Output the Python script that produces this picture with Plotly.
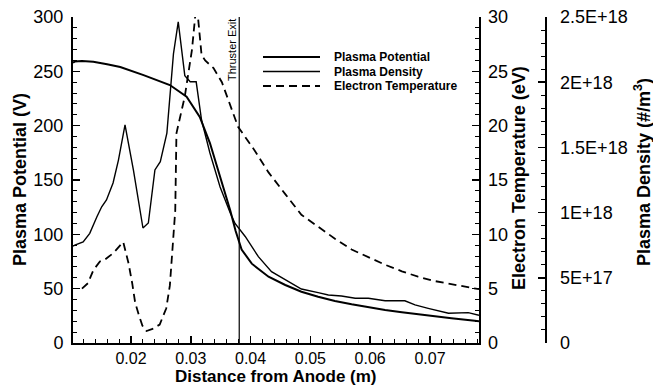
import plotly.graph_objects as go

# ---------------- data ----------------
pot_x = [0.0103, 0.0106, 0.0118, 0.0137, 0.0160, 0.0182, 0.0221, 0.0265, 0.0293, 0.0315,
         0.0332, 0.0349, 0.0366, 0.0375, 0.0385, 0.0402, 0.0430, 0.0458, 0.0485, 0.0513,
         0.0541, 0.0569, 0.0597, 0.0625, 0.0653, 0.0680, 0.0708, 0.0736, 0.0775, 0.0782]
pot_v = [258, 259, 259.5, 258.8, 256.5, 254, 246.5, 237.4, 226.6, 208,
         184, 153, 122, 103, 86, 73, 61, 53.4, 47.2, 42.6,
         38.6, 35.6, 32.8, 30.4, 28.2, 26.4, 24.2, 22.7, 20.5, 20]

den_x = [0.0103, 0.0106, 0.0120, 0.0131, 0.0143, 0.0151, 0.0159, 0.0170, 0.0179, 0.0190,
         0.0204, 0.0220, 0.0229, 0.0240, 0.0249, 0.0260, 0.0271, 0.0279, 0.0290, 0.0299,
         0.0309, 0.0318, 0.0332, 0.0349, 0.0366, 0.0374, 0.0391, 0.0413, 0.0435, 0.0458,
         0.0485, 0.0513, 0.0530, 0.0552, 0.0575, 0.0597, 0.0625, 0.0658, 0.0675, 0.0697,
         0.0731, 0.0764, 0.0782]
den_v = [0.742, 0.750, 0.775, 0.841, 0.968, 1.045, 1.097, 1.227, 1.403, 1.672,
         1.327, 0.882, 0.920, 1.327, 1.390, 1.610, 2.217, 2.463, 2.050, 2.003,
         2.003, 1.710, 1.457, 1.196, 0.997, 0.917, 0.817, 0.662, 0.547, 0.483,
         0.414, 0.386, 0.368, 0.360, 0.343, 0.343, 0.324, 0.324, 0.292, 0.266,
         0.228, 0.233, 0.213]  # units of 1E18 #/m^3

te_x = [0.0118, 0.0128, 0.0137, 0.0148, 0.0157, 0.0171, 0.0187, 0.0196, 0.0202, 0.0207,
        0.0213, 0.0219, 0.0226, 0.0236, 0.0248, 0.0259, 0.0265, 0.0268, 0.0271, 0.0272,
        0.0274, 0.0276, 0.0290, 0.0302, 0.0309, 0.0312, 0.0318, 0.0324, 0.0338, 0.0352,
        0.0370, 0.0379, 0.0407, 0.0430, 0.0458, 0.0485, 0.0513, 0.0541, 0.0569, 0.0597,
        0.0625, 0.0653, 0.0680, 0.0708, 0.0736, 0.0775, 0.0782]
te_v = [5.0, 5.5, 6.7, 7.5, 7.7, 8.3, 9.3, 7.3, 5.5, 3.7,
        2.6, 1.6, 1.1, 1.3, 1.7, 3.2, 5.3, 7.6, 9.3, 11.0,
        12.2, 19.3, 22.7, 27.0, 31.0, 30.0, 26.5, 26.0, 25.3, 24.0,
        21.3, 19.9, 17.7, 15.7, 13.7, 11.8, 10.7, 9.6, 8.6, 7.9,
        7.2, 6.6, 6.1, 5.7, 5.4, 5.0, 4.95]

exit_x = 0.0381

x_ticks = [0.02, 0.03, 0.04, 0.05, 0.06, 0.07]
pot_ticks = [0, 50, 100, 150, 200, 250, 300]
te_ticks = [0, 5, 10, 15, 20, 25, 30]
den_tickvals = [0, 0.5e18, 1.0e18, 1.5e18, 2.0e18, 2.5e18]
den_ticktext = ["0", "5E+17", "1E+18", "1.5E+18", "2E+18", "2.5E+18"]

legend_names = ["Plasma Potential", "Plasma Density", "Electron Temperature"]

# ---------------- layout geometry (pixels) ----------------
W, H = 653, 385
L, R, T, B = 73, 10, 17, 42
plot_w = W - L - R
plot_h = H - T - B
x_right_px = 479
den_axis_px = 545


def px(xp):
    return (xp - L) / plot_w


def py(yp):
    return (H - B - yp) / plot_h


FONT = "Liberation Sans, Arial, Helvetica, sans-serif"
BLACK = "#000000"

fig = go.Figure()
fig.add_trace(go.Scatter(x=pot_x, y=pot_v, mode="lines", name=legend_names[0],
                         line=dict(color=BLACK, width=2), yaxis="y", showlegend=False))
fig.add_trace(go.Scatter(x=den_x, y=[v * 1e18 for v in den_v], mode="lines", name=legend_names[1],
                         line=dict(color=BLACK, width=1.4), yaxis="y3", showlegend=False))
fig.add_trace(go.Scatter(x=te_x, y=te_v, mode="lines", name=legend_names[2],
                         line=dict(color=BLACK, width=1.8, dash="8px,5px"), yaxis="y2",
                         showlegend=False))

xdom_end = px(x_right_px)

common_tick = dict(color=BLACK, size=18, family=FONT)
x_tick_font = dict(color=BLACK, size=16, family=FONT)

fig.update_layout(
    template="none",
    width=W, height=H,
    margin=dict(l=L, r=R, t=T, b=B, pad=0, autoexpand=False),
    paper_bgcolor="white", plot_bgcolor="white",
    font=dict(family=FONT, color=BLACK),
    showlegend=False,
    xaxis=dict(domain=[0, xdom_end], range=[0.0103, 0.0782], tickvals=x_ticks,
               ticktext=["%.2f" % v for v in x_ticks], automargin=False,
               showgrid=False, zeroline=False, showline=True, linecolor=BLACK, linewidth=2,
               ticks="inside", ticklen=7, tickwidth=1.5, tickcolor=BLACK,
               minor=dict(dtick=0.002, tick0=0, ticks="inside", ticklen=4, tickwidth=1,
                          tickcolor=BLACK, showgrid=False),
               tickfont=x_tick_font, mirror=False),
    yaxis=dict(range=[0, 300], tickvals=pot_ticks, showgrid=False, zeroline=False, automargin=False,
               showline=True, linecolor=BLACK, linewidth=2,
               ticks="inside", ticklen=7, tickwidth=1.5, tickcolor=BLACK,
               minor=dict(dtick=10, tick0=0, ticks="inside", ticklen=4, tickwidth=1,
                          tickcolor=BLACK, showgrid=False),
               tickfont=common_tick, ticklabelstandoff=4),
    yaxis2=dict(range=[0, 30], tickvals=te_ticks, overlaying="y", side="right", anchor="x",
                showgrid=False, zeroline=False, showline=True, linecolor=BLACK, linewidth=1.5,
                automargin=False,
                ticks="inside", ticklen=7, tickwidth=1.5, tickcolor=BLACK,
                minor=dict(dtick=1, tick0=0, ticks="inside", ticklen=4, tickwidth=1,
                           tickcolor=BLACK, showgrid=False),
                tickfont=common_tick, ticklabelstandoff=4),
    yaxis3=dict(range=[0, 2.5e18], tickvals=den_tickvals, ticktext=den_ticktext,
                overlaying="y", side="right", anchor="free", position=px(den_axis_px),
                showgrid=False, zeroline=False, showline=True, linecolor=BLACK, linewidth=1.5,
                automargin=False,
                ticks="inside", ticklen=7, tickwidth=1.5, tickcolor=BLACK,
                minor=dict(dtick=1e17, tick0=0, ticks="inside", ticklen=4, tickwidth=1,
                           tickcolor=BLACK, showgrid=False),
                tickfont=common_tick, ticklabelstandoff=10),
)

# Thruster exit line
fig.add_shape(type="line", xref="x", yref="paper", x0=exit_x, x1=exit_x, y0=0, y1=1,
              line=dict(color=BLACK, width=1.2))

annotations = [
    dict(text="Thruster Exit", xref="paper", yref="paper", x=px(232), y=py(50),
         textangle=-90, showarrow=False, font=dict(size=11, color=BLACK, family=FONT),
         xanchor="center", yanchor="middle"),
    dict(text="<b>Distance from Anode (m)</b>", xref="paper", yref="paper", x=px(276), y=py(376),
         showarrow=False, font=dict(size=17, color=BLACK, family=FONT), xanchor="center", yanchor="middle"),
    dict(text="<b>Plasma Potential (V)</b>", xref="paper", yref="paper", x=px(20), y=py(180),
         textangle=-90, showarrow=False, font=dict(size=18, color=BLACK, family=FONT),
         xanchor="center", yanchor="middle"),
    dict(text="<b>Electron Temperature (eV)</b>", xref="paper", yref="paper", x=px(519), y=py(178),
         textangle=-90, showarrow=False, font=dict(size=18, color=BLACK, family=FONT),
         xanchor="center", yanchor="middle"),
    dict(text="<b>Plasma Density (#/m<sup>3</sup>)</b>", xref="paper", yref="paper", x=px(642), y=py(172),
         textangle=-90, showarrow=False, font=dict(size=18, color=BLACK, family=FONT),
         xanchor="center", yanchor="middle"),
]

# manual legend
leg_rows = [57, 71.5, 86]
leg_styles = [dict(width=2, dash="solid"), dict(width=1.4, dash="solid"), dict(width=1.8, dash="8px,5px")]
for name, yrow, st in zip(legend_names, leg_rows, leg_styles):
    fig.add_shape(type="line", xref="paper", yref="paper", x0=px(263), x1=px(320),
                  y0=py(yrow), y1=py(yrow), line=dict(color=BLACK, **st))
    annotations.append(dict(text="<b>%s</b>" % name, xref="paper", yref="paper", x=px(332), y=py(yrow),
                            showarrow=False, xanchor="left", yanchor="middle",
                            font=dict(size=12, color=BLACK, family=FONT)))

fig.update_layout(annotations=annotations)

fig.write_html("out.html",
               config={"displayModeBar": False, "staticPlot": True},
               post_script="document.body.style.margin='0';document.body.style.padding='0';"
                           "document.body.style.overflow='hidden';")
